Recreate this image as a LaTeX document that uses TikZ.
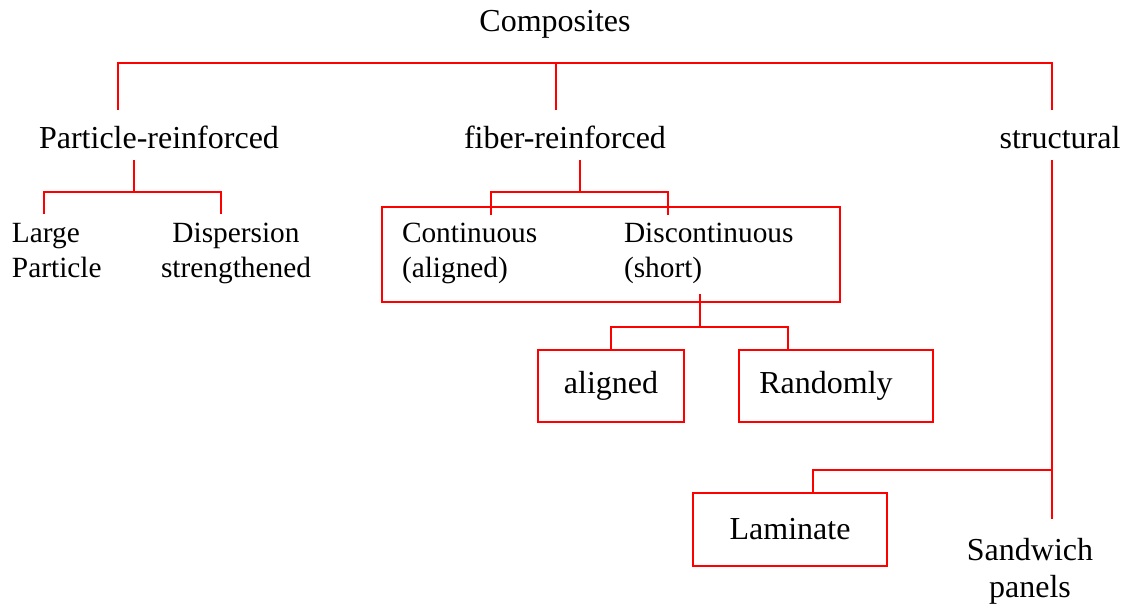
\documentclass[tikz,border=0pt]{standalone}
\usepackage{fontspec}
\setmainfont{Liberation Serif}
\usepackage{tikz}
\usetikzlibrary{calc,positioning}

\begin{document}
\begin{tikzpicture}[x=0.75pt,y=-0.75pt,
	every node/.style={font=\fontsize{24}{27.75}\selectfont,inner sep=0pt,outer sep=0pt},
	small/.style={font=\fontsize{22}{26.25}\selectfont},
	link/.style={draw=red,line width=1.2pt},
	boxed/.style={draw=red,line width=1.2pt,align=center}]

\useasboundingbox (0,0) rectangle (1128,607);

% class names
\node[anchor=base] (comp) at (555,31) {Composites};
\node[anchor=base] (part) at (159,148) {Particle-reinforced};
\node[anchor=base] (fibr) at (565,148) {fiber-reinforced};
\node[anchor=base] (strc) at (1060,148) {structural};

% (base of a two line node = base of its last line)
\node[small,anchor=base west,align=left] (large) at (12,277) {Large\\Particle};
\node[small,anchor=base,align=center] (disp) at (236,277) {Dispersion\\strengthened};

% the fiber box and what sits in it
\node[boxed,minimum width=343.5pt,minimum height=71.25pt] (fbox) at (611,254.5) {};
\node[small,anchor=base west,align=left] (cont) at (402,277) {Continuous\\(aligned)};
\node[small,anchor=base west,align=left] (disc) at (624,277) {Discontinuous\\(short)};

\node[boxed,minimum width=109.5pt,minimum height=54pt] (aln) at (611,386) {aligned};
\node[boxed,minimum width=145.5pt,minimum height=54pt] (rnd) at (836,386) {Randomly\hspace*{15pt}};
\node[boxed,minimum width=145.5pt,minimum height=54.75pt] (lam) at (790,529.5) {Laminate};

\node[anchor=base,align=center] (sand) at (1030,597) {Sandwich\\panels};

% joints of the tree
\coordinate (barL) at (118,63);
\coordinate (barR) at (1052,63);
\coordinate (c1) at (118,110);
\coordinate (c2) at (556,110);
\coordinate (c3) at (1052,110);

\coordinate (p0) at (134,160);
\coordinate (pj) at (134,192);
\coordinate (p1) at (44,214);
\coordinate (p2) at (221,214);

\coordinate (f0) at (580,160);
\coordinate (fj) at (580,192);
\coordinate (f1) at (491,215);
\coordinate (f2) at (668,215);

\coordinate (s0) at (700,294);
\coordinate (sj) at (700,327);
\coordinate (s2) at (788,350);

\coordinate (t0) at (1052,160);
\coordinate (tj) at (1052,470);
\coordinate (t1) at (1052,519);
\coordinate (l1) at (813,493);

% top level
\draw[link] (c1) -- (barL) -- (barR) -- (c3);
\draw[link] (c2) -- (c2 |- barL);

% particle branch
\draw[link] (p0) -- (pj);
\draw[link] (p1) |- (pj) -| (p2);

% fiber branch
\draw[link] (f0) -- (fj);
\draw[link] (f1) |- (fj) -| (f2);
\draw[link] (s0) -- (sj);
\draw[link] (aln.north) |- (sj) -| (s2);

% structural branch
\draw[link] (t0) -- (t1);
\draw[link] (l1) |- (tj);

\end{tikzpicture}
\end{document}
